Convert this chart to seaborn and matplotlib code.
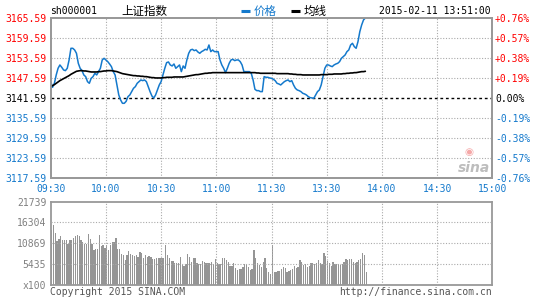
import matplotlib
matplotlib.use("Agg")
import matplotlib.pyplot as plt
from matplotlib.lines import Line2D
import numpy as np
import pandas as pd
import seaborn as sns

# ---------------- data ----------------
prev_close = 3141.59
price_ticks = [3117.59, 3123.59, 3129.59, 3135.59, 3141.59, 3147.59, 3153.59, 3159.59, 3165.59]
pct_labels = ["-0.76%", "-0.57%", "-0.38%", "-0.19%", "0.00%", "+0.19%", "+0.38%", "+0.57%", "+0.76%"]
time_labels = ["09:30", "10:00", "10:30", "11:00", "11:30", "13:30", "14:00", "14:30", "15:00"]
vol_ticks = [0, 5435, 10869, 16304, 21739]
vol_labels = ["x100", "5435", "10869", "16304", "21739"]

# minute-by-minute price (09:30 ... 11:29, 13:00 ... 13:51)
price = [
    3146.5, 3144.8, 3146.0, 3148.5, 3150.5, 3151.5, 3150.8, 3150.0, 3149.8, 3150.5,
    3153.0, 3156.5, 3156.5, 3156.0, 3155.0, 3152.0, 3150.5, 3149.8, 3148.5, 3148.0,
    3146.5, 3146.0, 3147.5, 3148.0, 3149.0, 3148.5, 3149.5, 3150.5, 3153.0, 3153.5,
    3153.0, 3152.5, 3151.8, 3151.0, 3149.5, 3148.5, 3145.5, 3142.5, 3141.0, 3140.0,
    3140.0, 3140.6, 3142.0, 3142.5, 3143.5, 3144.5, 3145.0, 3146.0, 3146.5, 3147.0,
    3146.8, 3147.0, 3146.5, 3145.0, 3143.5, 3142.2, 3141.6, 3142.5, 3144.0, 3145.5,
    3146.5, 3148.5, 3150.5, 3152.2, 3152.4, 3151.5, 3151.2, 3151.8, 3150.5, 3151.0,
    3151.5, 3149.5, 3151.2, 3150.5, 3153.0, 3155.0, 3156.0, 3156.2, 3155.8, 3156.0,
    3155.4, 3155.0, 3155.5, 3155.8, 3156.2, 3156.0, 3157.5, 3155.5, 3156.0, 3155.5,
    3155.5, 3155.5, 3153.0, 3151.5, 3150.5, 3149.2, 3150.5, 3152.0, 3153.0, 3153.2,
    3152.8, 3153.0, 3153.0, 3152.5, 3151.5, 3149.5, 3149.5, 3149.5, 3149.5, 3149.0,
    3147.0, 3144.2, 3143.8, 3143.8, 3143.5, 3143.5, 3148.0, 3147.8, 3147.8, 3147.6,
    3147.5, 3147.2, 3146.8, 3146.0, 3145.8, 3145.5, 3146.0, 3146.5, 3146.8, 3147.0,
    3146.5, 3146.8, 3145.5, 3144.5, 3144.0, 3143.8, 3143.5, 3143.0, 3142.8, 3142.5,
    3142.0, 3141.7, 3141.6, 3141.5, 3142.5, 3143.5, 3144.0, 3145.5, 3148.0, 3150.5,
    3151.5, 3151.5, 3151.2, 3151.0, 3151.5, 3151.8, 3152.0, 3152.5, 3153.5, 3154.0,
    3154.5, 3155.5, 3156.0, 3157.5, 3158.0, 3157.0, 3156.5, 3158.5, 3161.5, 3163.5,
    3165.0, 3165.6,
]

avg = [
    3145.0, 3145.3, 3145.6, 3146.0, 3146.4, 3146.8, 3147.1, 3147.4, 3147.7, 3148.0,
    3148.3, 3148.7, 3149.0, 3149.3, 3149.6, 3149.7, 3149.8, 3149.8, 3149.7, 3149.7,
    3149.6, 3149.5, 3149.4, 3149.4, 3149.4, 3149.4, 3149.5, 3149.5, 3149.6, 3149.7,
    3149.7, 3149.8, 3149.8, 3149.8, 3149.7, 3149.6, 3149.5, 3149.3, 3149.1, 3148.9,
    3148.8, 3148.7, 3148.6, 3148.5, 3148.4, 3148.3, 3148.3, 3148.2, 3148.2, 3148.1,
    3148.1, 3148.0, 3148.0, 3147.9, 3147.8, 3147.7, 3147.7, 3147.6, 3147.6, 3147.6,
    3147.6, 3147.7, 3147.7, 3147.8, 3147.8, 3147.8, 3147.8, 3147.9, 3147.9, 3147.9,
    3147.9, 3147.9, 3147.9, 3148.0, 3148.1, 3148.2, 3148.3, 3148.4, 3148.5, 3148.6,
    3148.6, 3148.7, 3148.8, 3148.9, 3149.0, 3149.0, 3149.1, 3149.1, 3149.2, 3149.2,
    3149.2, 3149.2, 3149.2, 3149.2, 3149.2, 3149.2, 3149.2, 3149.2, 3149.2, 3149.2,
    3149.2, 3149.2, 3149.2, 3149.2, 3149.2, 3149.2, 3149.2, 3149.2, 3149.2, 3149.2,
    3149.2, 3149.2, 3149.1, 3149.1, 3149.0, 3149.0, 3149.0, 3149.0, 3149.0, 3149.0,
    3149.0, 3149.0, 3149.0, 3148.9, 3148.9, 3148.9, 3148.9, 3148.9, 3148.9, 3148.9,
    3148.8, 3148.8, 3148.7, 3148.7, 3148.6, 3148.6, 3148.6, 3148.5, 3148.5, 3148.5,
    3148.5, 3148.5, 3148.5, 3148.5, 3148.5, 3148.5, 3148.5, 3148.6, 3148.6, 3148.6,
    3148.6, 3148.7, 3148.7, 3148.7, 3148.8, 3148.8, 3148.8, 3148.8, 3148.8, 3148.9,
    3148.9, 3149.0, 3149.0, 3149.1, 3149.1, 3149.2, 3149.2, 3149.3, 3149.4, 3149.5,
    3149.5, 3149.6,
]

volume = [
    14234, 15700, 13630, 11390, 11900, 12770, 11820, 11650, 11650, 10780,
    11650, 11650, 12250, 12770, 12940, 12680, 11650, 11210, 10780, 10780,
    13370, 11900, 10780, 9230, 9490, 9490, 12940, 10180, 10520, 9660,
    10350, 9230, 10350, 11210, 11210, 12250, 9320, 9320, 8200, 7760,
    6470, 7760, 8800, 8200, 7760, 7590, 7940, 7330, 8630, 8450,
    6900, 7760, 7330, 7510, 7160, 6730, 6730, 6900, 7070, 6900,
    6900, 7070, 10350, 7940, 6900, 6210, 6210, 5610, 5610, 5610,
    7330, 5180, 5000, 5350, 8200, 7330, 6040, 7070, 7070, 5610,
    5350, 5350, 6210, 5870, 5610, 5610, 5610, 5870, 5350, 6730,
    5610, 5350, 5350, 7070, 7070, 6470, 6040, 5000, 5000, 5610,
    4490, 3880, 4140, 4140, 4740, 5350, 5180, 4740, 3880, 4140,
    9060, 7070, 5610, 5180, 4740, 6040, 7070, 4490, 3280, 2900,
    10350, 3280, 3280, 3620, 3620, 4140, 4740, 4490, 3450, 3620,
    3880, 4140, 4920, 4490, 4740, 6470, 6040, 5180, 5350, 4740,
    5000, 5610, 5610, 5350, 5610, 6470, 5610, 5350, 8370, 7590,
    6210, 5610, 4920, 6040, 5350, 5350, 5350, 5180, 5350, 5870,
    6730, 6470, 6730, 6730, 5870, 5610, 6040, 6470, 6730, 8450,
    7940, 3280,
]

minute = np.arange(len(price))
df = pd.DataFrame({"minute": minute, "price": price, "avg": avg})

# ---------------- style ----------------
sns.set_style("white")
plt.rcParams["font.family"] = ["DejaVu Sans Mono", "Noto Sans CJK SC"]

RED = "#ff0000"
BLUE = "#1479cc"
GRID = "#aaaaaa"
SPINE = "#999999"

W, H = 545, 300
fig = plt.figure(figsize=(W / 100, H / 100), dpi=100)
fig.patch.set_facecolor("white")

L, R = 50.7, 492.3
ax = fig.add_axes([L / W, 1 - 178 / H, (R - L) / W, 160 / H])
axv = fig.add_axes([L / W, 1 - 285 / H, (R - L) / W, 83.5 / H])

# price panel
sns.lineplot(data=df, x="minute", y="price", ax=ax, color=BLUE, lw=1.1, zorder=4)
sns.lineplot(data=df, x="minute", y="avg", ax=ax, color="black", lw=1.2, zorder=5)
ax.set_xlim(0, 240)
ax.set_ylim(price_ticks[0], price_ticks[-1])
ax.set_xlabel("")
ax.set_ylabel("")
ax.set_yticks(price_ticks)
ax.set_yticklabels([f"{t:.2f}" for t in price_ticks], fontsize=7)
for lab, t in zip(ax.get_yticklabels(), price_ticks):
    lab.set_color(RED if t > prev_close else ("black" if t == prev_close else BLUE))
ax.set_xticks(np.arange(0, 241, 30))
ax.set_xticklabels(time_labels, fontsize=7, color=BLUE)
ax.tick_params(length=0, pad=3.2)
ax.tick_params(axis="x", pad=4)
for t in price_ticks[1:-1]:
    if t == prev_close:
        ax.axhline(t, color="black", lw=1.0, ls=(0, (2, 2)), zorder=3)
    else:
        ax.axhline(t, color=GRID, lw=0.8, ls=(0, (1, 1.5)), zorder=1)
for xv in range(30, 240, 30):
    ax.axvline(xv, color=GRID, lw=0.8, ls=(0, (1, 1.5)), zorder=1)

ax2 = ax.twinx()
ax2.set_ylim(price_ticks[0], price_ticks[-1])
ax2.set_yticks(price_ticks)
ax2.set_yticklabels(pct_labels, fontsize=7)
for lab, t in zip(ax2.get_yticklabels(), price_ticks):
    lab.set_color(RED if t > prev_close else ("black" if t == prev_close else BLUE))
ax2.tick_params(length=0, pad=2)

for a in (ax, ax2, axv):
    for s in a.spines.values():
        s.set_color(SPINE)
        s.set_linewidth(1.3)

# volume panel
axv.bar(minute + 0.12, volume, width=0.7, align="edge", color="#959595", lw=0, zorder=2)
axv.set_xlim(0, 240)
axv.set_ylim(0, vol_ticks[-1])
axv.set_yticks(vol_ticks)
axv.set_yticklabels(vol_labels, fontsize=7, color="#808080")
axv.set_xticks([])
axv.tick_params(length=0, pad=3.2)
for t in vol_ticks[1:-1]:
    axv.axhline(t, color=GRID, lw=0.8, ls=(0, (1, 1.5)), zorder=3)
for xv in range(30, 240, 30):
    axv.axvline(xv, color=GRID, lw=0.8, ls=(0, (1, 1.5)), zorder=3)

# header
def fx(px):
    return px / W

def fy(py):
    return 1 - py / H

fig.text(fx(50), fy(11), "sh000001", fontsize=7, color="black", va="center", ha="left")
fig.text(fx(121), fy(11.5), "上证指数", fontsize=8.3, color="black", va="center", ha="left",
         family=["Noto Sans CJK SC", "DejaVu Sans"])
fig.add_artist(Line2D([fx(241), fx(250)], [fy(10.5), fy(10.5)], color=BLUE, lw=2.2,
                      solid_capstyle="butt"))
fig.text(fx(254), fy(11.5), "价格", fontsize=8.3, color=BLUE, va="center", ha="left",
         family=["Noto Sans CJK SC", "DejaVu Sans"])
fig.add_artist(Line2D([fx(291), fx(300)], [fy(10.5), fy(10.5)], color="black", lw=2.2,
                      solid_capstyle="butt"))
fig.text(fx(304), fy(11.5), "均线", fontsize=8.3, color="black", va="center", ha="left",
         family=["Noto Sans CJK SC", "DejaVu Sans"])
fig.text(fx(491), fy(11), "2015-02-11 13:51:00", fontsize=7, color="black", va="center", ha="right")

# watermark
fig.text(fx(469), fy(152), "◉", fontsize=7.5, color="#f5a8a8", va="center", ha="center",
         family=["DejaVu Sans"])
fig.text(fx(474), fy(168), "sina", fontsize=10, color="#bdbdbd", va="center", ha="center",
         style="italic", weight="bold", family=["DejaVu Sans"])

# footer
fig.text(fx(50), fy(292), "Copyright 2015 SINA.COM", fontsize=7, color="#555555", va="center", ha="left")
fig.text(fx(492), fy(292), "http://finance.sina.com.cn", fontsize=7, color="#555555", va="center", ha="right")

fig.savefig("out.png", dpi=100, facecolor="white")
